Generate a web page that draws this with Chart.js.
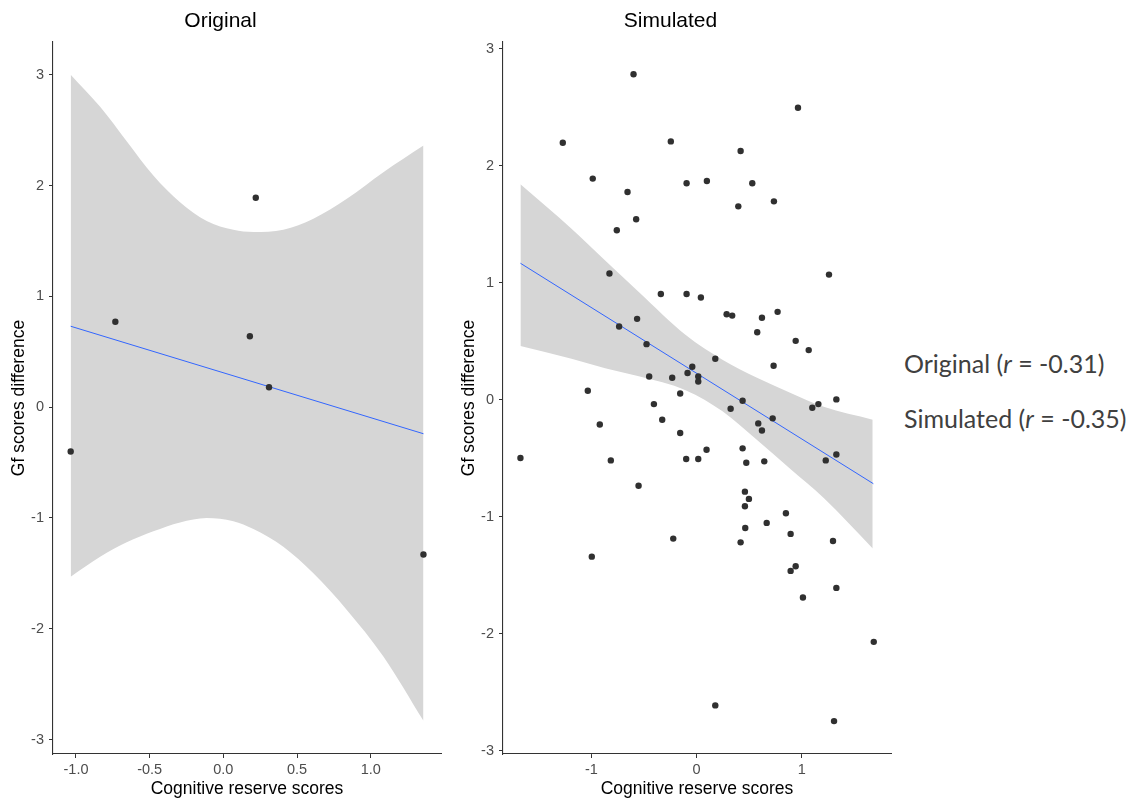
<!DOCTYPE html>
<html>
<head>
<meta charset="utf-8">
<script src="https://cdn.jsdelivr.net/npm/chart.js@4.4.1/dist/chart.umd.min.js"></script>
<style>
  html, body { margin: 0; background: #fff; }
  #wrap { position: relative; width: 1132px; height: 800px; overflow: hidden; }
  canvas { position: absolute; top: 0; }
  #cOrig { left: 0; }
  #cSim { left: 450px; }
  .note { position: absolute; left: 904px; font-family: Lato, "Open Sans", sans-serif; font-size: 25px;
          line-height: 30px; color: #404040; white-space: nowrap; }
</style>
</head>
<body>
<div id="wrap">
  <canvas id="cOrig" width="450" height="800"></canvas>
  <canvas id="cSim" width="450" height="800"></canvas>
  <div class="note" style="top:348px">Original (<i>r</i> = -0.31)</div>
  <div class="note" style="top:403px">Simulated (<i>r</i> = -0.35)</div>
</div>
<script>
// ---- Original sample ----
const ORIG_X = [-1.036, -0.733, 0.22, 0.18, 0.31, 1.358];
const ORIG_Y = [-0.40, 0.77, 1.89, 0.64, 0.18, -1.33];
const ORIG_FIT_X = [-1.036, 1.358];
const ORIG_FIT_Y = [0.73, -0.24];
const ORIG_BAND_X = [-1.036, -0.836, -0.656, -0.475, -0.294, -0.113, 0.068, 0.204, 0.407, 0.611, 0.838, 1.086, 1.358];
const ORIG_UPPER = [3.00, 2.71, 2.40, 2.09, 1.85, 1.68, 1.60, 1.58, 1.60, 1.70, 1.88, 2.12, 2.36];
const ORIG_LOWER = [-1.53, -1.35, -1.22, -1.12, -1.04, -1.00, -1.03, -1.10, -1.26, -1.50, -1.83, -2.25, -2.83];
const ORIG_XTICKS = [-1.0, -0.5, 0.0, 0.5, 1.0];

// ---- Simulated sample ----
const SIM_X = [-1.273, -0.600, -0.245, -0.988, -0.657, -0.575, -0.759, -0.095, 0.098, 0.419, 0.530, 0.397, 0.736, 0.965,
  -0.829, 1.260, -0.340, -0.095, 0.041, 0.286, 0.339, 0.771, 0.622, -0.566, -0.737, 0.577, 0.943, -0.476, 1.067, 0.178,
  0.733, -0.041, -0.086, -0.451, -0.232, 0.016, 0.016, -1.035, -0.156, 0.438, 1.330, -0.406, 1.159, 1.101, 0.324,
  -0.921, -0.327, 0.724, 0.587, 0.622, -0.156, 0.095, 0.438, 1.330, -1.676, -0.816, -0.099, 0.016, 0.473, 0.644,
  1.229, -0.552, 0.460, 0.498, 0.460, 0.850,
  0.667, 0.463, 0.895, -0.222, 0.419, 1.298, -0.997, 0.943, 0.895, 1.330, 1.012, 1.686, 0.178, 1.308];
const SIM_Y = [2.196, 2.78, 2.207, 1.889, 1.775, 1.542, 1.448, 1.849, 1.869, 2.125, 1.849, 1.652, 1.695, 2.494,
  1.078, 1.069, 0.904, 0.904, 0.873, 0.731, 0.719, 0.751, 0.700, 0.691, 0.626, 0.577, 0.503, 0.475, 0.424, 0.350,
  0.290, 0.282, 0.228, 0.199, 0.188, 0.199, 0.156, 0.077, 0.054, -0.009, 0.003, -0.037, -0.037, -0.068, -0.077,
  -0.211, -0.171, -0.159, -0.202, -0.262, -0.284, -0.427, -0.415, -0.467, -0.498, -0.518, -0.506, -0.506, -0.538, -0.526,
  -0.518, -0.734, -0.785, -0.847, -0.910, -0.970,
  -1.052, -1.095, -1.146, -1.186, -1.218, -1.206, -1.340, -1.422, -1.462, -1.607, -1.689, -2.068, -2.611, -2.745];
const SIM_FIT_X = [-1.676, 1.682];
const SIM_FIT_Y = [1.166, -0.717];
const SIM_BAND_X = [-1.676, -1.19, -0.87, -0.55, -0.10, 0.25, 0.57, 0.89, 1.21, 1.676];
const SIM_UPPER = [1.84, 1.46, 1.19, 0.92, 0.55, 0.34, 0.19, 0.06, -0.06, -0.17];
const SIM_LOWER = [0.46, 0.35, 0.27, 0.20, 0.08, -0.10, -0.34, -0.59, -0.84, -1.27];
const SIM_XTICKS = [-1, 0, 1];

const Y_TICKS = [-3, -2, -1, 0, 1, 2, 3];

Chart.defaults.font.family = '"Liberation Sans", Arial, sans-serif';
Chart.defaults.animation = false;

const pts = (xs, ys) => xs.map((x, i) => ({ x: x, y: ys[i] }));

function axis(min, max, ticks, fmt, title, isX) {
  return {
    type: "linear",
    position: isX ? "bottom" : "left",
    min: min,
    max: max,
    afterBuildTicks: (s) => { s.ticks = ticks.map((v) => ({ value: v })); },
    afterFit: (s) => { if (isX) s.height = 46; else s.width = 53; },
    grid: { drawOnChartArea: false, drawTicks: true, tickLength: 4, color: "#333333", lineWidth: 1 },
    border: { display: true, color: "#333333", width: 1.1 },
    ticks: {
      color: "#4d4d4d",
      font: { size: 14.5 },
      padding: isX ? 3 : 5,
      autoSkip: false,
      maxRotation: 0,
      callback: (v) => fmt(v),
    },
    title: {
      display: true,
      text: title,
      color: "#000000",
      font: { size: 17.5 },
      padding: isX ? { top: 0, bottom: 0 } : { top: 8.5, bottom: 0 },
    },
  };
}

function panel(id, cfg) {
  return new Chart(document.getElementById(id), {
    type: "scatter",
    data: {
      datasets: [
        { type: "line", data: pts(cfg.bandX, cfg.upper), fill: "+1", backgroundColor: "rgb(214,214,214)",
          borderWidth: 0, pointRadius: 0, cubicInterpolationMode: "monotone", order: 3 },
        { type: "line", data: pts(cfg.bandX, cfg.lower), fill: false,
          borderWidth: 0, pointRadius: 0, cubicInterpolationMode: "monotone", order: 3 },
        { type: "line", data: pts(cfg.fitX, cfg.fitY), borderColor: "#3366FF", borderWidth: 1,
          pointRadius: 0, fill: false, order: 2 },
        { data: pts(cfg.x, cfg.y), pointRadius: 3.2, backgroundColor: "#303030", borderWidth: 0, order: 1 },
      ],
    },
    options: {
      responsive: false,
      devicePixelRatio: 1,
      layout: { padding: { left: 0, right: 9, top: 0, bottom: 0 } },
      plugins: {
        legend: { display: false },
        tooltip: { enabled: false },
        title: {
          display: true,
          text: cfg.title,
          color: "#000000",
          font: { size: 21, weight: "normal" },
          padding: { top: 9, bottom: 7.8 },
        },
      },
      scales: {
        x: axis(cfg.xMin, cfg.xMax, cfg.xTicks, cfg.xFmt, "Cognitive reserve scores", true),
        y: axis(cfg.yMin, cfg.yMax, Y_TICKS, (v) => String(v), "Gf scores difference", false),
      },
    },
  });
}

panel("cOrig", {
  title: "Original",
  x: ORIG_X, y: ORIG_Y, fitX: ORIG_FIT_X, fitY: ORIG_FIT_Y,
  bandX: ORIG_BAND_X, upper: ORIG_UPPER, lower: ORIG_LOWER,
  xMin: -1.156, xMax: 1.477, yMin: -3.13, yMax: 3.295,
  xTicks: ORIG_XTICKS, xFmt: (v) => v.toFixed(1),
});

panel("cSim", {
  title: "Simulated",
  x: SIM_X, y: SIM_Y, fitX: SIM_FIT_X, fitY: SIM_FIT_Y,
  bandX: SIM_BAND_X, upper: SIM_UPPER, lower: SIM_LOWER,
  xMin: -1.842, xMax: 1.85, yMin: -3.026, yMax: 3.056,
  xTicks: SIM_XTICKS, xFmt: (v) => String(v),
});
</script>
</body>
</html>
